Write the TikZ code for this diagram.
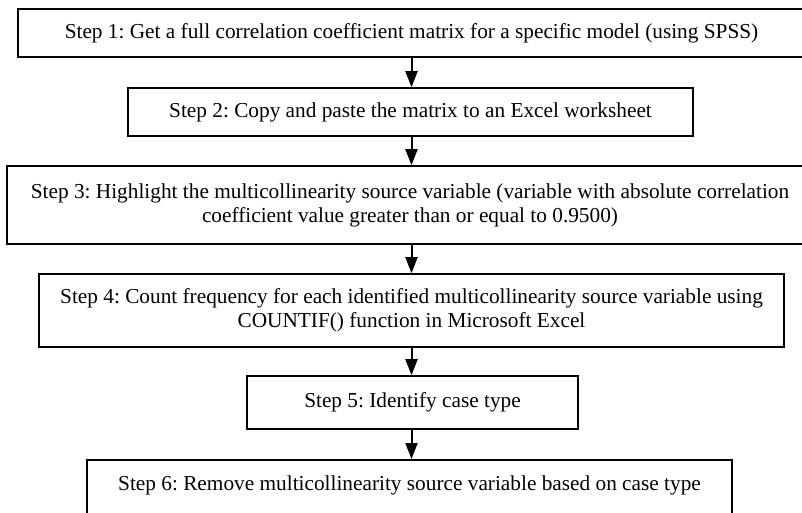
\documentclass[tikz,border=0pt]{standalone}
\usepackage{fontspec}
\setmainfont{Liberation Serif}
\usetikzlibrary{arrows.meta}
\frenchspacing
\begin{document}
\begin{tikzpicture}[x=1pt,y=-1pt,
  stepbox/.style={draw, line width=1.6pt, inner sep=0pt, align=center,
    font=\fontsize{21.3}{24}\selectfont},
  flow/.style={line width=2pt, -{Triangle[width=12pt,length=16pt]}}]
\useasboundingbox (0,0) rectangle (802,512);
\clip (0,0) rectangle (802,512);
\node[stepbox, minimum width=787pt, minimum height=48pt] (b1) at (411.5,33)
  {Step 1: Get a full correlation coefficient matrix for a specific model (using SPSS)};
\node[stepbox, minimum width=565pt, minimum height=48pt] (b2) at (410.5,112)
  {Step 2: Copy and paste the matrix to an Excel worksheet};
\node[stepbox, minimum width=806pt, minimum height=78pt] (b3) at (410,205)
  {Step 3: Highlight the multicollinearity source variable (variable with absolute correlation\\
   coefficient value greater than or equal to 0.9500)};
\node[stepbox, minimum width=745pt, minimum height=73pt] (b4) at (411.5,310.5)
  {Step 4: Count frequency for each identified multicollinearity source variable using\\
   COUNTIF() function in Microsoft Excel};
\node[stepbox, minimum width=331pt, minimum height=53pt] (b5) at (412.5,402.5)
  {Step 5: Identify case type};
\node[stepbox, minimum width=645pt, text height=31pt, text depth=45pt, anchor=north] (b6) at (409.5,459)
  {Step 6: Remove multicollinearity source variable based on case type};
\coordinate (ax) at (411.5,0);
\draw[flow] (b1.south -| ax) -- (b2.north -| ax);
\draw[flow] (b2.south -| ax) -- (b3.north -| ax);
\draw[flow] (b3.south -| ax) -- (b4.north -| ax);
\draw[flow] (b4.south -| ax) -- (b5.north -| ax);
\draw[flow] (b5.south -| ax) -- (b6.north -| ax);
\end{tikzpicture}
\end{document}
